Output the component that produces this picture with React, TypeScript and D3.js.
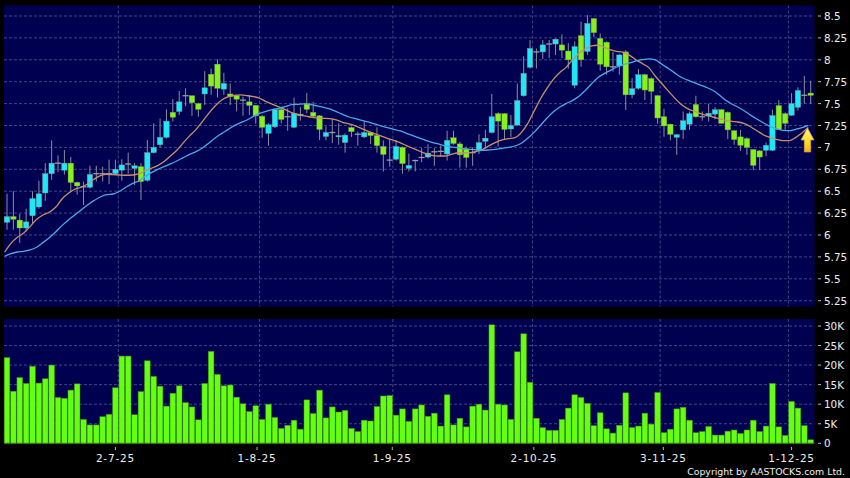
import React from "react";
import * as d3 from "d3";

const opens = [6.145,6.21,6.17,6.08,6.22,6.32,6.48,6.70,6.82,6.74,
6.82,6.60,6.55,6.545,6.70,6.70,6.70,6.70,6.74,6.81,
6.76,6.78,6.625,6.94,7.03,7.115,7.40,7.41,7.59,7.59,
7.50,7.61,7.835,7.95,7.665,7.61,7.59,7.54,7.52,7.48,
7.355,7.16,7.235,7.43,7.35,7.23,7.36,7.50,7.40,7.36,
7.125,7.17,7.12,7.055,7.225,7.15,7.12,7.17,7.135,7.01,
6.855,6.865,7.0,6.76,6.85,6.885,6.89,6.95,6.955,6.925,
7.11,7.04,6.98,6.94,6.96,7.07,7.17,7.385,7.385,7.21,
7.255,7.59,7.915,8.09,8.09,8.18,8.18,8.17,8.10,7.71,
8.275,8.095,8.47,8.245,8.20,7.92,7.93,8.09,7.60,7.675,
7.83,7.785,7.59,7.35,7.265,7.115,7.20,7.265,7.49,7.35,
7.36,7.38,7.43,7.40,7.19,7.12,7.10,6.975,6.96,6.967,
6.967,7.477,7.385,7.367,7.458,7.595,7.62];
const closes = [6.21,6.18,6.08,6.15,6.415,6.47,6.70,6.82,6.82,6.82,
6.60,6.56,6.55,6.69,6.70,6.70,6.70,6.75,6.80,6.81,
6.79,6.61,6.94,7.0,7.115,7.30,7.345,7.52,7.59,7.51,
7.435,7.68,7.70,7.675,7.73,7.58,7.55,7.54,7.48,7.36,
7.23,7.26,7.43,7.32,7.35,7.39,7.38,7.435,7.355,7.205,
7.17,7.17,7.135,7.14,7.18,7.15,7.17,7.135,7.02,6.92,
6.855,7.01,6.815,6.795,6.85,6.885,6.935,6.95,6.955,7.08,
7.045,6.915,6.885,6.94,7.055,7.105,7.35,7.30,7.205,7.25,
7.535,7.845,8.13,8.09,8.17,8.18,8.235,8.11,8.0,8.15,
8.0,8.415,8.31,7.95,7.92,7.92,8.055,7.60,7.67,7.83,
7.655,7.64,7.336,7.245,7.15,7.145,7.305,7.385,7.35,7.35,
7.39,7.43,7.275,7.20,7.09,7.024,7.0,6.795,6.89,7.024,
7.363,7.205,7.275,7.50,7.65,7.595,7.595];
const highs = [6.47,6.50,6.24,6.30,6.50,6.62,6.82,7.08,6.91,6.97,
6.89,6.61,6.61,6.79,6.79,6.78,6.86,6.86,6.865,6.94,
6.82,6.82,7.085,7.275,7.33,7.435,7.55,7.645,7.675,7.59,
7.51,7.87,7.90,8.005,7.85,7.73,7.60,7.58,7.59,7.485,
7.37,7.275,7.445,7.465,7.445,7.57,7.46,7.62,7.52,7.37,
7.24,7.33,7.275,7.16,7.24,7.18,7.295,7.18,7.23,7.08,
7.10,7.085,7.01,6.93,6.86,6.99,7.035,6.99,7.02,7.19,
7.19,7.065,7.01,7.0,7.15,7.20,7.61,7.40,7.39,7.37,
7.73,8.04,8.225,8.13,8.225,8.225,8.245,8.29,8.19,8.21,
8.435,8.51,8.475,8.30,8.21,8.09,8.07,8.11,7.79,7.895,
7.84,7.80,7.60,7.44,7.27,7.15,7.41,7.41,7.59,7.41,
7.50,7.46,7.44,7.41,7.20,7.20,7.115,6.98,6.97,7.055,
7.43,7.54,7.40,7.62,7.686,7.815,7.76];
const lows = [6.06,6.06,5.91,6.04,6.13,6.30,6.39,6.63,6.72,6.69,
6.50,6.46,6.34,6.53,6.61,6.61,6.58,6.685,6.62,6.70,
6.57,6.40,6.61,6.93,7.0,7.10,7.295,7.37,7.47,7.36,
7.35,7.485,7.60,7.57,7.60,7.485,7.41,7.36,7.37,7.27,
7.11,7.02,7.22,7.275,7.19,7.22,7.305,7.39,7.34,7.085,
7.08,7.05,7.03,6.94,7.12,7.02,7.105,7.04,6.94,6.725,
6.78,6.85,6.70,6.725,6.725,6.83,6.875,6.79,6.895,6.85,
7.03,6.77,6.77,6.79,6.925,6.99,7.16,7.01,7.085,7.12,
7.245,7.58,7.90,7.90,8.01,8.02,8.055,8.02,7.90,7.675,
7.92,8.055,8.257,7.876,7.83,7.865,7.83,7.427,7.56,7.66,
7.54,7.50,7.27,7.12,7.08,6.915,7.095,7.20,7.34,7.305,
7.295,7.32,7.27,7.095,7.03,6.96,6.915,6.74,6.74,6.90,
6.96,7.20,7.20,7.36,7.42,7.50,7.496];
const maShort = [5.803,5.905,5.974,6.023,6.096,6.176,6.229,6.259,6.316,6.411,
6.476,6.522,6.545,6.583,6.636,6.678,6.693,6.689,6.685,6.682,
6.685,6.697,6.731,6.762,6.792,6.838,6.902,6.967,7.051,7.131,
7.203,7.294,7.389,7.473,7.538,7.576,7.595,7.599,7.591,7.580,
7.561,7.522,7.492,7.462,7.431,7.397,7.378,7.359,7.347,7.336,
7.332,7.328,7.313,7.287,7.268,7.245,7.214,7.184,7.157,7.131,
7.104,7.081,7.054,7.020,6.990,6.959,6.929,6.910,6.902,6.902,
6.921,6.936,6.936,6.940,6.955,6.978,7.020,7.058,7.085,7.100,
7.112,7.169,7.271,7.412,7.553,7.671,7.774,7.853,7.911,7.998,
8.070,8.124,8.158,8.166,8.143,8.112,8.097,8.086,8.051,7.998,
7.956,7.911,7.815,7.732,7.648,7.568,7.496,7.446,7.416,7.389,
7.366,7.347,7.328,7.309,7.298,7.290,7.271,7.233,7.188,7.142,
7.115,7.092,7.077,7.077,7.112,7.165,7.226];
const maLong = [5.757,5.787,5.806,5.814,5.829,5.860,5.913,5.970,6.035,6.107,
6.172,6.229,6.286,6.343,6.392,6.434,6.461,6.468,6.499,6.545,
6.586,6.617,6.666,6.712,6.750,6.781,6.811,6.845,6.883,6.921,
6.952,6.994,7.047,7.108,7.157,7.203,7.249,7.283,7.313,7.355,
7.389,7.412,7.431,7.446,7.465,7.488,7.492,7.496,7.488,7.473,
7.458,7.439,7.408,7.378,7.347,7.328,7.309,7.290,7.268,7.245,
7.226,7.207,7.188,7.161,7.134,7.108,7.081,7.058,7.039,7.020,
7.005,6.997,6.986,6.978,6.971,6.967,6.971,6.978,6.990,7.001,
7.016,7.047,7.104,7.172,7.252,7.332,7.404,7.458,7.500,7.534,
7.580,7.648,7.724,7.796,7.842,7.880,7.918,7.945,7.964,7.987,
8.002,8.010,7.998,7.952,7.903,7.854,7.804,7.770,7.743,7.713,
7.686,7.652,7.602,7.541,7.496,7.458,7.416,7.366,7.321,7.279,
7.241,7.214,7.195,7.191,7.207,7.226,7.252];
const volumes = [21.9,13.3,16.8,15.3,19.7,15.4,16.5,20.0,11.7,11.5,
13.6,15.2,6.1,4.7,4.7,6.8,7.4,14.2,22.3,22.3,
7.3,13.2,21.1,17.1,14.6,9.5,12.8,14.7,10.4,9.3,
6.0,15.3,23.5,17.6,14.7,14.9,11.8,10.1,8.1,9.6,
6.1,10.0,6.6,3.8,4.6,5.9,3.6,11.1,7.6,13.6,
6.5,9.3,8.0,8.4,3.8,3.0,5.9,5.7,9.4,12.1,
12.2,7.2,8.8,5.6,8.8,9.8,6.9,7.7,4.4,12.4,
4.7,6.4,4.2,9.5,10.0,8.5,30.3,10.0,9.8,6.1,
23.4,28.0,15.6,6.4,4.0,3.3,3.3,6.1,9.0,12.4,
11.7,10.2,4.5,7.8,3.7,2.6,4.6,12.9,4.0,4.4,
7.7,4.9,13.0,2.7,3.6,8.8,9.2,5.9,2.7,3.0,
4.3,2.1,2.1,3.1,3.4,2.5,3.4,5.9,3.0,4.4,
15.3,4.2,2.0,10.7,9.0,4.5,0.9];
const priceTicks = [8.5,8.25,8,7.75,7.5,7.25,7,6.75,6.5,6.25,6,5.75,5.5,5.25];
const volumeTicks = [0,5,10,15,20,25,30];
const dateLabels = ["2-7-25","1-8-25","1-9-25","2-10-25","3-11-25","1-12-25"];
const dateTickIndex = [17,39.2,60.4,82.6,102.9,123];
const dateGridIndex = [17.45,39.6,60.5,82.4,102.4,122.5];

const W = 850, H = 478;
const panelL = 4, panelR = 814.5;
const priceT = 5.5, priceB = 306.5;
const volT = 319, volB = 443.5;
const font = "'DejaVu Sans', sans-serif";
const navy = "#000050";
const gridC = "#55558a";

const x = d3.scaleLinear().domain([0, 126]).range([7, 810.7]);
const yP = d3.scaleLinear().domain([5.25, 8.5]).range([300.7, 16]);
const yV = d3.scaleLinear().domain([0, 30]).range([443.3, 326]);
const maLine = d3.line<number>().x((_, i) => x(i) - 2.4).y((d) => yP(d)).curve(d3.curveMonotoneX);

export default function App() {
  const hw = 2.7;
  return (
    <svg width={W} height={H} viewBox={`0 0 ${W} ${H}`} style={{ position: "absolute", left: 0, top: 0, display: "block" }}>
      <defs>
        <linearGradient id="arrowFill" x1="0" y1="0" x2="0" y2="1">
          <stop offset="0" stopColor="#fff68a" />
          <stop offset="0.6" stopColor="#ffdc20" />
          <stop offset="1" stopColor="#f4b010" />
        </linearGradient>
      </defs>
      <rect width={W} height={H} fill="#000" />
      <rect x={panelL} y={priceT} width={panelR - panelL} height={priceB - priceT} fill={navy} />
      <rect x={panelL} y={volT} width={panelR - panelL} height={volB - volT} fill={navy} />

      {priceTicks.map((t) => (
        <g key={t}>
          <line x1={panelL} x2={panelR} y1={yP(t)} y2={yP(t)} stroke={gridC} strokeWidth={0.8} strokeDasharray="3 2" />
          <line x1={818} x2={821} y1={yP(t)} y2={yP(t)} stroke="#bbb" />
          <text x={824} y={yP(t) + 4} fill="#eee" fontSize={10.4} fontFamily={font}>{t}</text>
        </g>
      ))}
      {volumeTicks.map((t) => (
        <g key={t}>
          {t > 0 && <line x1={panelL} x2={panelR} y1={yV(t)} y2={yV(t)} stroke={gridC} strokeWidth={0.8} strokeDasharray="3 2" />}
          <line x1={818} x2={821} y1={yV(t)} y2={yV(t)} stroke="#bbb" />
          <text x={824} y={yV(t) + 4} fill="#eee" fontSize={10.4} fontFamily={font}>{t === 0 ? "0" : `${t}K`}</text>
        </g>
      ))}
      {dateGridIndex.map((g) => (
        <g key={g}>
          <line x1={x(g)} x2={x(g)} y1={priceT} y2={priceB} stroke={gridC} strokeWidth={0.8} strokeDasharray="3 2" />
          <line x1={x(g)} x2={x(g)} y1={volT} y2={volB} stroke={gridC} strokeWidth={0.8} strokeDasharray="3 2" />
        </g>
      ))}
      {dateLabels.map((d, i) => (
        <g key={d}>
          <line x1={x(dateTickIndex[i])} x2={x(dateTickIndex[i])} y1={447} y2={450} stroke="#bbb" />
          <text x={x(dateTickIndex[i])} y={462} textAnchor="middle" fill="#eee" fontSize={10.5} letterSpacing={0.8} fontFamily={font}>{d}</text>
        </g>
      ))}

      {opens.map((o, i) => {
        const c = closes[i];
        const cx = x(i);
        const top = yP(Math.max(o, c));
        const bot = yP(Math.min(o, c));
        const doji = o === c;
        return (
          <g key={i}>
            <line x1={cx} x2={cx} y1={yP(highs[i])} y2={yP(lows[i])} stroke="#8c8c9c" strokeWidth={1} />
            {doji ? (
              <line x1={cx - hw - 0.3} x2={cx + hw + 0.3} y1={top} y2={top} stroke="#9a9aa8" strokeWidth={1.3} />
            ) : (
              <rect x={cx - hw} y={top} width={hw * 2} height={Math.max(bot - top, 1)} fill={c > o ? "#1ce8f8" : "#86f218"} stroke={c > o ? "#8a9a94" : "#7fa860"} strokeWidth={0.4} />
            )}
          </g>
        );
      })}

      <path d={maLine(maShort) ?? ""} fill="none" stroke="#c8906a" strokeWidth={1.3} />
      <path d={maLine(maLong) ?? ""} fill="none" stroke="#4ca8e8" strokeWidth={1.3} />

      <path d="M807.5 128 L814 140 L810.7 140 L810.7 152 L804.3 152 L804.3 140 L801 140 Z" fill="url(#arrowFill)" stroke="#c9a25a" strokeWidth={0.7} />

      {volumes.map((v, i) => (
        <rect key={i} x={x(i) - 2.8} y={yV(v)} width={5.6} height={yV(0) - yV(v)} fill="#66ff10" stroke="#3c9c14" strokeWidth={0.5} />
      ))}
      <line x1={panelL} x2={panelR} y1={yV(0)} y2={yV(0)} stroke="#2c7a10" strokeWidth={1} />

      <text x={845} y={475} textAnchor="end" fill="#eee" fontSize={9.4} fontFamily={font}>Copyright by AASTOCKS.com Ltd.</text>
    </svg>
  );
}
